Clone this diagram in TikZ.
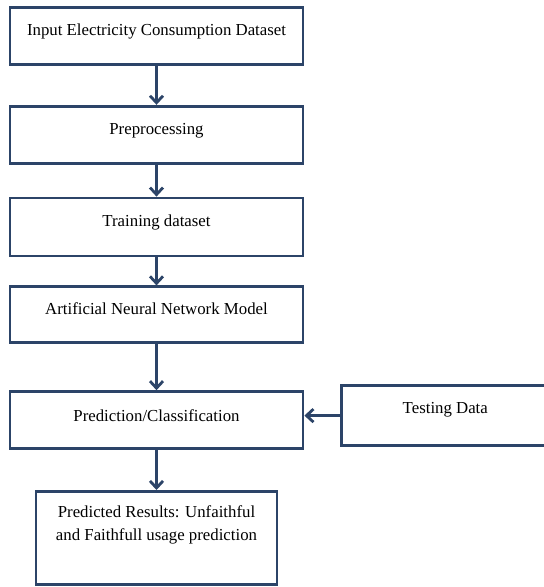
\documentclass[tikz,border=0pt]{standalone}
\usepackage{fontspec}
\setmainfont{Liberation Serif}
\usetikzlibrary{arrows.meta,positioning}
\definecolor{flowblue}{RGB}{44,68,104}

\begin{document}
\begin{tikzpicture}[
      x=1pt,y=1pt,
      procbox/.style={
         rectangle,
         draw=flowblue,
         line width=2.8pt,
         fill=white,
         inner xsep=0pt,
         inner ysep=0pt,
         minimum width=293pt,
         text height=28pt,
         text depth=29pt,
         align=center,
         font=\fontsize{16.8}{23}\selectfont},
      myarrow/.style={flowblue,line width=2.8pt,-{Straight Barb[length=7pt,width=13pt]}},
      node distance=39pt and 36pt
      ]
      \useasboundingbox (0,0) rectangle (544,-587);
      \node[procbox,anchor=north] (input) at (156.5,-6) {Input Electricity Consumption Dataset};
      \node[procbox,below=of input] (prep) {Preprocessing};
      \node[procbox,below=32pt of prep,text depth=30pt] (train) {Training dataset};
      \node[procbox,below=28pt of train,text depth=28pt] (ann) {Artificial Neural Network Model};
      \node[procbox,below=46pt of ann,text height=30pt,text depth=27pt] (pred) {Prediction/Classification};
      \node[procbox,right=36pt of pred,yshift=4.5pt,minimum width=207pt,text depth=32pt] (test) {Testing Data};
      \node[procbox,below=40pt of pred,minimum width=241pt,text height=49pt,text depth=44pt] (res)
         {Predicted Results: Unfaithful\\and Faithfull usage prediction};

    \foreach \i/\j in {% upper box/lower box
      input/prep,
	prep/train,
	train/ann,
	ann/pred,
	pred/res}
       \draw [myarrow] (\i) -- (\j);
    \draw [myarrow] (test.west) -- (pred.east |- test.west);

    \end{tikzpicture}
\end{document}
